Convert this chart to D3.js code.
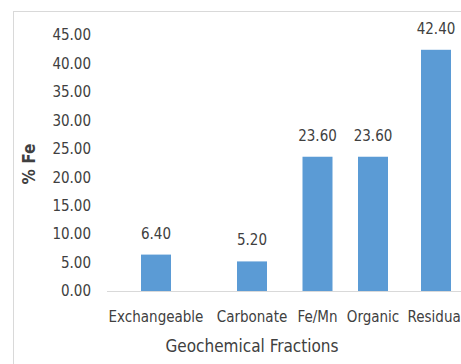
<!DOCTYPE html>
<html><head><meta charset="utf-8">
<script src="https://cdn.jsdelivr.net/npm/d3@7"></script>
<style>body{margin:0;background:#fff}svg{display:block}text{font-family:"DejaVu Sans Condensed","DejaVu Sans",sans-serif;font-stretch:condensed;fill:#404040}</style>
</head><body>
<script>
const categories = ["Exchangeable","Carbonate","Fe/Mn","Organic","Residual"];
const values = [6.40, 5.20, 23.60, 23.60, 42.40];
const yTicks = [0,5,10,15,20,25,30,35,40,45];
const xTitle = "Geochemical Fractions";
const yTitle = "% Fe";

const W = 461, H = 364;
const svg = d3.select("body").append("svg").attr("width", W).attr("height", H);
svg.append("rect").attr("x",13.5).attr("y",11.5).attr("width",W).attr("height",H)
  .attr("fill","#fff").attr("stroke","#d9d9d9");

const y = d3.scaleLinear().domain([0,45]).range([291,35]);
const x = d3.scaleOrdinal().domain(categories).range([156,252,317.5,373,436]);
const bw = 30;
const fs = "15px";

svg.append("line").attr("x1",107).attr("x2",W).attr("y1",y(0)+0.5).attr("y2",y(0)+0.5)
  .attr("stroke","#d9d9d9");

const yAxis = d3.axisLeft(y).tickValues(yTicks).tickFormat(d3.format(".2f")).tickSize(0).tickPadding(0);
const gy = svg.append("g").attr("transform","translate(91,0)").call(yAxis);
gy.select(".domain").remove();
gy.selectAll("text").style("font-size",fs).style("font-family",null).attr("fill","#404040");

svg.selectAll("rect.bar").data(values).join("rect").attr("class","bar")
  .attr("x",(d,i)=>x(categories[i])-bw/2).attr("width",bw)
  .attr("y",d=>y(d)).attr("height",d=>y(0)-y(d)).attr("fill","#5b9bd5");

svg.selectAll("text.val").data(values).join("text").attr("class","val")
  .attr("x",(d,i)=>x(categories[i])).attr("y",d=>y(d)-16)
  .attr("text-anchor","middle").style("font-size",fs).text(d=>d.toFixed(2));

svg.selectAll("text.cat").data(categories).join("text").attr("class","cat")
  .attr("x",d=>x(d)).attr("y",322).attr("text-anchor","middle").style("font-size",fs).text(d=>d);

svg.append("text").attr("x",252).attr("y",352).attr("text-anchor","middle").style("font-size","17px").text(xTitle);
svg.append("text").attr("transform","translate(35,164) rotate(-90)").attr("text-anchor","middle")
  .style("font-size","17px").style("font-weight","bold").text(yTitle);
</script>
</body></html>
